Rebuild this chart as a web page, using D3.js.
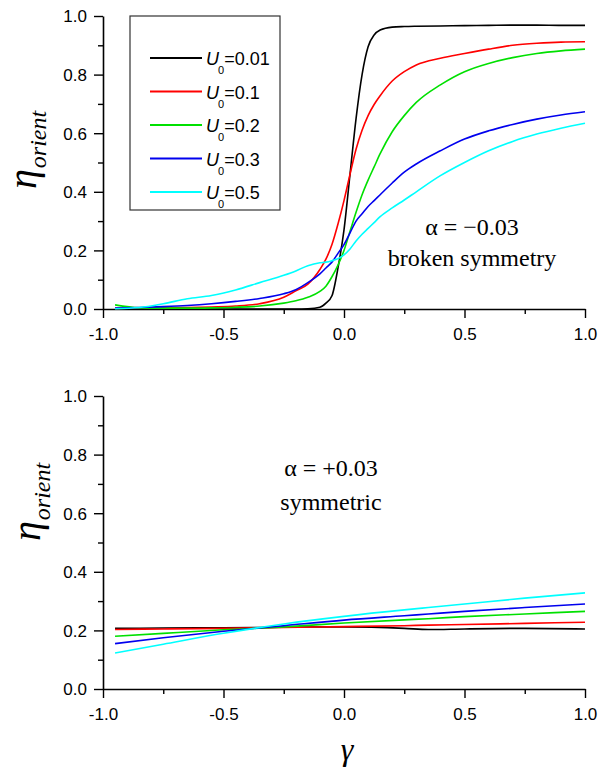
<!DOCTYPE html>
<html>
  <head>
    <meta charset="UTF-8" />
    <script src="https://d3js.org/d3.v7.min.js"></script>
    <style>
      body { margin: 0; background: #fff; }
      .tick text { font-family: "Liberation Sans", Arial, Helvetica, sans-serif; font-size: 17px; fill: #000; }
      .serif { font-family: "Liberation Serif", "Times New Roman", Times, "DejaVu Serif", serif; }
    </style>
  </head>
  <body>
    <svg width="598" height="770"></svg>

    <script>
      // ---- data ----
      const seriesNames = ["0.01", "0.1", "0.2", "0.3", "0.5"];
      const seriesColors = ["#000000", "#ff0000", "#00e000", "#0000ee", "#00ffff"];

      const gammaTop = [-0.95, -0.85, -0.75, -0.65, -0.55, -0.45, -0.35, -0.25, -0.2, -0.15, -0.1,
        -0.075, -0.05, -0.025, 0, 0.025, 0.05, 0.075, 0.1, 0.125, 0.15, 0.2, 0.25, 0.3, 0.4,
        0.5, 0.6, 0.7, 0.8, 0.9, 1.0];
      const topU001 = [0, 0, 0, 0, 0, 0, 0, 0, 0, 0.001, 0.006, 0.02, 0.045, 0.14, 0.27, 0.46,
        0.65, 0.8, 0.895, 0.935, 0.952, 0.962, 0.964, 0.965, 0.966, 0.967, 0.968, 0.969, 0.969, 0.968, 0.968];
      const topU01 = [0.002, 0.003, 0.004, 0.005, 0.007, 0.01, 0.018, 0.04, 0.062, 0.085, 0.135,
        0.17, 0.22, 0.29, 0.37, 0.46, 0.545, 0.61, 0.66, 0.698, 0.728, 0.778, 0.81, 0.833, 0.856,
        0.872, 0.887, 0.9, 0.907, 0.911, 0.912];
      const topU02 = [0.014, 0.004, 0.003, 0.003, 0.004, 0.006, 0.01, 0.02, 0.028, 0.04, 0.06,
        0.078, 0.11, 0.15, 0.2, 0.265, 0.33, 0.39, 0.44, 0.485, 0.53, 0.605, 0.66, 0.705, 0.765,
        0.81, 0.838, 0.858, 0.872, 0.881, 0.887];
      const topU03 = [0.003, 0.005, 0.008, 0.012, 0.018, 0.026, 0.036, 0.052, 0.066, 0.09, 0.12,
        0.14, 0.16, 0.19, 0.22, 0.26, 0.3, 0.325, 0.35, 0.37, 0.39, 0.43, 0.467, 0.495, 0.54,
        0.58, 0.608, 0.63, 0.648, 0.662, 0.673];
      const topU05 = [0.001, 0.005, 0.018, 0.035, 0.046, 0.065, 0.09, 0.115, 0.13, 0.148, 0.158,
        0.16, 0.165, 0.172, 0.185, 0.205, 0.232, 0.255, 0.275, 0.295, 0.315, 0.345, 0.372, 0.4,
        0.455, 0.5, 0.54, 0.572, 0.597, 0.617, 0.634];

      const gammaBottom = [-0.95, -0.75, -0.5, -0.25, 0, 0.25, 0.35, 0.5, 0.75, 1.0];
      const botU001 = [0.207, 0.208, 0.209, 0.211, 0.212, 0.207, 0.203, 0.205, 0.207, 0.205];
      const botU01 = [0.203, 0.205, 0.207, 0.21, 0.213, 0.216, 0.218, 0.22, 0.224, 0.228];
      const botU02 = [0.18, 0.19, 0.202, 0.212, 0.225, 0.236, 0.24, 0.247, 0.256, 0.265];
      const botU03 = [0.155, 0.175, 0.197, 0.216, 0.235, 0.25, 0.256, 0.265, 0.278, 0.29];
      const botU05 = [0.123, 0.153, 0.19, 0.222, 0.248, 0.27, 0.278, 0.29, 0.31, 0.328];

      const xMajor = [-1.0, -0.5, 0.0, 0.5, 1.0];
      const xMinor = [-0.75, -0.25, 0.25, 0.75];
      const yMajor = [0.0, 0.2, 0.4, 0.6, 0.8, 1.0];
      const yMinor = [0.1, 0.3, 0.5, 0.7, 0.9];

      const svg = d3.select("svg");
      const x = d3.scaleLinear().domain([-1, 1]).range([103, 585]);

      function drawPanel(top, bottom, gammas, seriesList) {
        const y = d3.scaleLinear().domain([0, 1]).range([bottom, top]);
        const g = svg.append("g");

        // minor ticks
        g.append("g")
          .attr("transform", "translate(0," + bottom + ")")
          .call(d3.axisBottom(x).tickValues(xMinor).tickSize(5).tickFormat(""))
          .call(a => a.select(".domain").remove());
        g.append("g")
          .attr("transform", "translate(103,0)")
          .call(d3.axisLeft(y).tickValues(yMinor).tickSize(5).tickFormat(""))
          .call(a => a.select(".domain").remove());

        // major axes
        const xa = g.append("g")
          .attr("transform", "translate(0," + bottom + ")")
          .call(d3.axisBottom(x).tickValues(xMajor).tickSize(9).tickSizeOuter(0)
            .tickPadding(10).tickFormat(d3.format(".1f")));
        const ya = g.append("g")
          .attr("transform", "translate(103,0)")
          .call(d3.axisLeft(y).tickValues(yMajor).tickSize(9).tickSizeOuter(0)
            .tickPadding(7).tickFormat(d3.format(".1f")));
        g.selectAll("g").attr("font-family", null);
        g.selectAll(".domain").attr("stroke-width", 1.6);
        g.selectAll(".tick line").attr("stroke-width", 1.4);
        xa.selectAll("text").text(d => d3.format(".1f")(d).replace("\u2212", "-"));
        ya.selectAll("text").attr("dy", "0.35em");

        const line = d3.line()
          .x((d, i) => x(gammas[i]))
          .y(d => y(d))
          .curve(d3.curveMonotoneX);

        g.selectAll("path.curve")
          .data(seriesList)
          .join("path")
          .attr("class", "curve")
          .attr("fill", "none")
          .attr("stroke", (d, i) => seriesColors[i])
          .attr("stroke-width", 1.6)
          .attr("d", d => line(d));
        return y;
      }

      drawPanel(16, 309, gammaTop, [topU001, topU01, topU02, topU03, topU05]);
      drawPanel(396, 689, gammaBottom, [botU001, botU01, botU02, botU03, botU05]);

      // legend
      svg.append("rect")
        .attr("x", 130).attr("y", 16).attr("width", 150).attr("height", 194)
        .attr("fill", "none").attr("stroke", "#333").attr("stroke-width", 1.2);
      const leg = svg.selectAll("g.leg")
        .data(seriesNames)
        .join("g")
        .attr("class", "leg")
        .attr("transform", (d, i) => "translate(0," + (58 + i * 33.5) + ")");
      leg.append("line")
        .attr("x1", 150).attr("x2", 202)
        .attr("stroke", (d, i) => seriesColors[i])
        .attr("stroke-width", 1.8);
      const lt = leg.append("text")
        .attr("x", 206).attr("y", 7)
        .style("font-family", "'Liberation Sans', Arial, Helvetica, sans-serif")
        .attr("font-size", 18);
      lt.append("tspan").attr("font-style", "italic").text("U");
      lt.append("tspan").attr("font-size", 11).attr("dy", 9).attr("dx", -1).text("0");
      lt.append("tspan").attr("dy", -9).text(d => "=" + d);

      // y labels
      function yLabel(cx, startY) {
        const t = svg.append("text")
          .attr("class", "serif")
          .attr("transform", "translate(" + cx + "," + startY + ") rotate(-90)")
          .attr("font-style", "italic");
        t.append("tspan").attr("font-size", 40).text("\u03b7");
        t.append("tspan").attr("font-size", 24).attr("dy", 10).attr("dx", 1).text("orient");
      }
      yLabel(36, 189);
      yLabel(40, 541);

      // x label
      svg.append("text")
        .attr("class", "serif")
        .attr("x", 347).attr("y", 760)
        .attr("text-anchor", "middle")
        .attr("font-style", "italic")
        .attr("font-size", 32)
        .text("\u03b3");

      // annotations
      function note(cx, y1, y2, value, sub) {
        svg.append("text")
          .attr("class", "serif")
          .attr("x", cx).attr("y", y1)
          .attr("text-anchor", "middle")
          .attr("font-size", 24)
          .text("\u03b1 = " + value);
        svg.append("text")
          .attr("class", "serif")
          .attr("x", cx).attr("y", y2)
          .attr("text-anchor", "middle")
          .attr("font-size", 24)
          .text(sub);
      }
      note(472, 235, 266, "\u22120.03", "broken symmetry");
      note(331, 476, 510, "+0.03", "symmetric");
    </script>
  </body>
</html>
